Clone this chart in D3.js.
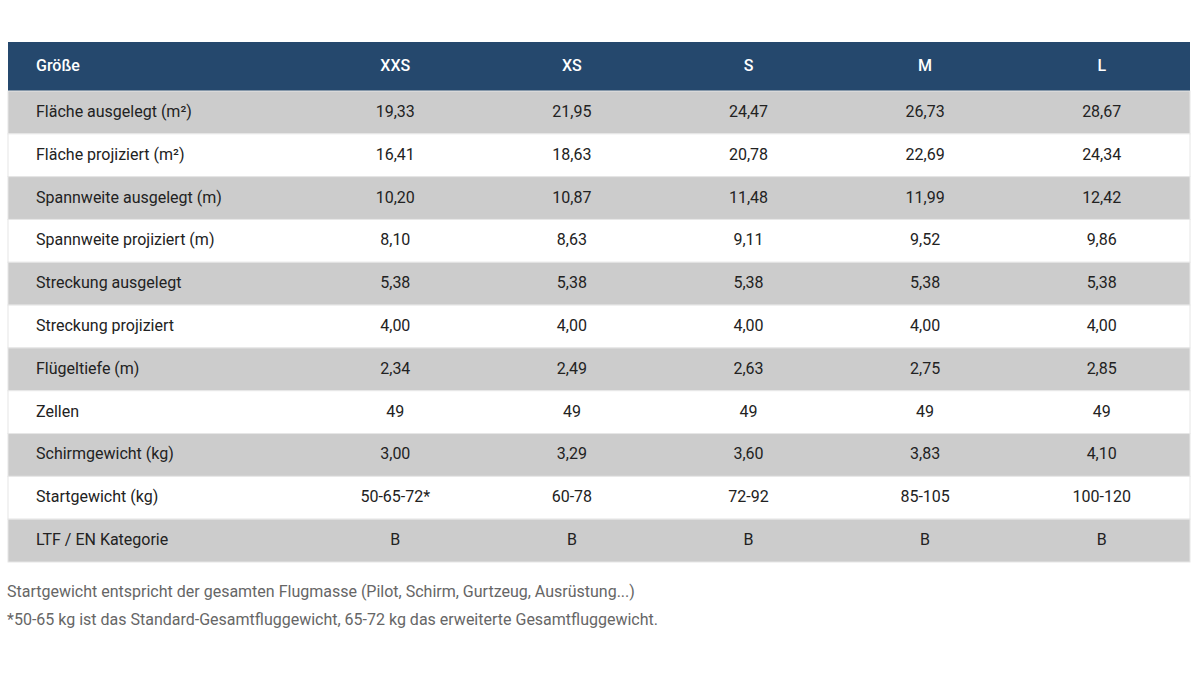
<!DOCTYPE html>
<html><head><meta charset="utf-8">
<script src="https://cdn.jsdelivr.net/npm/d3@7"></script>
<style>
html,body{margin:0;padding:0;background:#fff;}
svg{display:block;font-family:Roboto,"Noto Sans",sans-serif;}
</style></head>
<body>
<svg id="chart" width="1200" height="675"></svg>
<script>
const headerLabel = "Größe";
const sizes = ["XXS","XS","S","M","L"];
const rowLabels = [
  "Fläche ausgelegt (m²)",
  "Fläche projiziert (m²)",
  "Spannweite ausgelegt (m)",
  "Spannweite projiziert (m)",
  "Streckung ausgelegt",
  "Streckung projiziert",
  "Flügeltiefe (m)",
  "Zellen",
  "Schirmgewicht (kg)",
  "Startgewicht (kg)",
  "LTF / EN Kategorie"
];
const flaecheAusgelegt = ["19,33","21,95","24,47","26,73","28,67"];
const flaecheProjiziert = ["16,41","18,63","20,78","22,69","24,34"];
const spannweiteAusgelegt = ["10,20","10,87","11,48","11,99","12,42"];
const spannweiteProjiziert = ["8,10","8,63","9,11","9,52","9,86"];
const streckungAusgelegt = ["5,38","5,38","5,38","5,38","5,38"];
const streckungProjiziert = ["4,00","4,00","4,00","4,00","4,00"];
const fluegeltiefe = ["2,34","2,49","2,63","2,75","2,85"];
const zellen = ["49","49","49","49","49"];
const schirmgewicht = ["3,00","3,29","3,60","3,83","4,10"];
const startgewicht = ["50-65-72*","60-78","72-92","85-105","100-120"];
const kategorie = ["B","B","B","B","B"];
const footnotes = [
  "Startgewicht entspricht der gesamten Flugmasse (Pilot, Schirm, Gurtzeug, Ausrüstung...)",
  "*50-65 kg ist das Standard-Gesamtfluggewicht, 65-72 kg das erweiterte Gesamtfluggewicht."
];

const rowValues = [flaecheAusgelegt, flaecheProjiziert, spannweiteAusgelegt, spannweiteProjiziert,
  streckungAusgelegt, streckungProjiziert, fluegeltiefe, zellen, schirmgewicht, startgewicht, kategorie];
const rows = rowLabels.map((l,i)=>({label:l, values:rowValues[i]}));

const svg = d3.select("#chart");
const tableLeft = 8, tableRight = 1190, labelColW = 299;
const headerTop = 42, headerH = 49;
const bodyTop = headerTop + headerH, bodyBottom = 562;

const x = d3.scaleBand().domain(sizes).range([tableLeft + labelColW, tableRight]);
const y = d3.scaleBand().domain(d3.range(rows.length)).range([bodyTop, bodyBottom]);

// header
svg.append("rect").attr("x", tableLeft).attr("y", headerTop)
  .attr("width", tableRight - tableLeft).attr("height", headerH).attr("fill", "#25486d");
const hy = headerTop + headerH/2;
svg.append("text").attr("x", 36).attr("y", hy).attr("dy","0.28em")
  .attr("fill","#fff").attr("font-size",16).attr("font-weight",500).text(headerLabel);
svg.selectAll("text.hcol").data(sizes).join("text").attr("class","hcol")
  .attr("x", d => x(d) + x.bandwidth()/2).attr("y", hy).attr("dy","0.28em")
  .attr("text-anchor","middle").attr("fill","#fff").attr("font-size",16).attr("font-weight",500)
  .text(d => d);

// body rows
const g = svg.selectAll("g.row").data(rows).join("g").attr("class","row")
  .attr("transform",(d,i)=>`translate(0,${y(i)})`);
g.append("rect").attr("x", tableLeft).attr("y", 0)
  .attr("width", tableRight - tableLeft).attr("height", y.bandwidth())
  .attr("fill", (d,i)=> i%2===0 ? "#cccccc" : "#ffffff")
  .attr("stroke", "#e6e6e6").attr("stroke-width", 1);
g.append("text").attr("x", 36).attr("y", y.bandwidth()/2).attr("dy","0.28em")
  .attr("fill","#222").attr("font-size",16).text(d => d.label);
g.selectAll("text.val").data(d => d.values.map((v,j)=>({v, s:sizes[j]}))).join("text")
  .attr("class","val")
  .attr("x", d => x(d.s) + x.bandwidth()/2).attr("y", y.bandwidth()/2).attr("dy","0.28em")
  .attr("text-anchor","middle").attr("fill","#222").attr("font-size",16).text(d => d.v);

// footnotes
svg.selectAll("text.foot").data(footnotes).join("text").attr("class","foot")
  .attr("x", 7).attr("y", (d,i)=> 592 + i*28).attr("dy","0.3em")
  .attr("fill","#666").attr("font-size",16).text(d => d);
</script>
</body></html>
